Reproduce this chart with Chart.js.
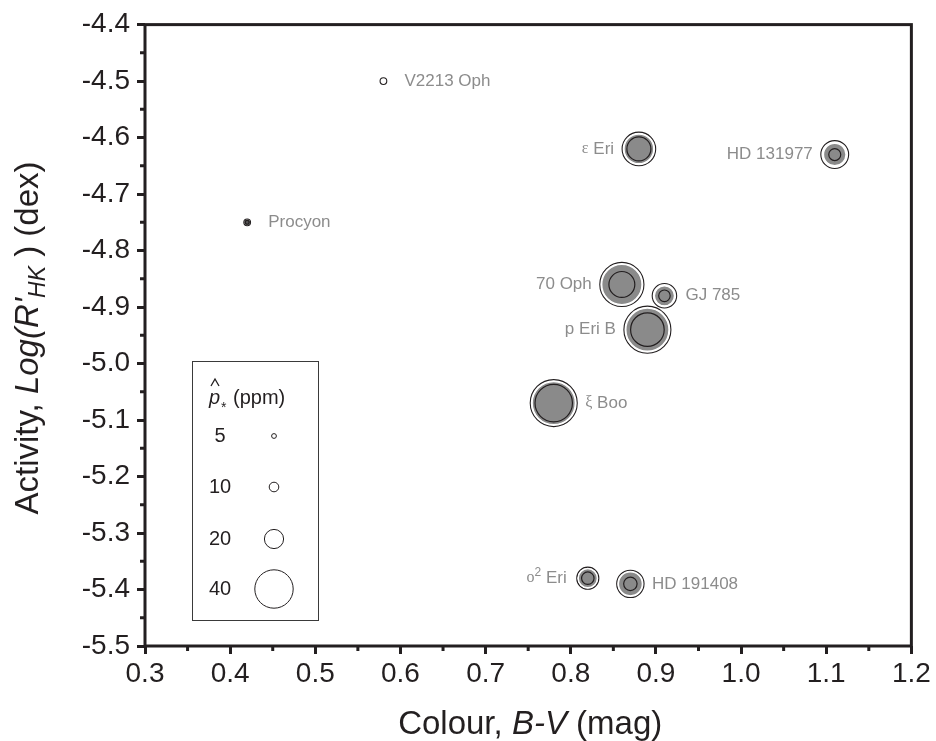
<!DOCTYPE html>
<html>
<head>
<meta charset="utf-8">
<script src="https://cdn.jsdelivr.net/npm/chart.js@4.4.1/dist/chart.umd.min.js"></script>
<style>
  html, body { margin: 0; padding: 0; background: #fff; }
  #wrap { width: 936px; height: 741px; }
</style>
</head>
<body>
<div id="wrap"><canvas id="chart" width="936" height="741"></canvas></div>
<script>
'use strict';

// star data
const stars = ['V2213 Oph', 'Procyon', 'ε Eri', 'HD 131977', '70 Oph', 'GJ 785', 'p Eri B', 'ξ Boo', 'ο² Eri', 'HD 191408'];
const colourBV = [0.58, 0.42, 0.88, 1.11, 0.86, 0.91, 0.89, 0.78, 0.82, 0.87];
const activity = [-4.50, -4.75, -4.62, -4.63, -4.86, -4.88, -4.94, -5.07, -5.38, -5.39];
// p* in ppm: upper bound (open circle), estimate (grey disc), lower bound (inner circle)
const pUpper = [7, 7, 35, 29, 46, 25.5, 49, 49, 23, 28.5];
const pMean = [null, 6, 31, 23.5, 42, 21, 45, 45, 20, 25];
const pLower = [null, 4, 25, 12.5, 27, 12, 35, 39, 13, 14];
const legendPpm = [5, 10, 20, 40];
const xTickLabels = ['0.3', '0.4', '0.5', '0.6', '0.7', '0.8', '0.9', '1.0', '1.1', '1.2'];
const yTickLabels = ['-4.4', '-4.5', '-4.6', '-4.7', '-4.8', '-4.9', '-5.0', '-5.1', '-5.2', '-5.3', '-5.4', '-5.5'];

const SANS = "'Liberation Sans', Arial, Helvetica, sans-serif";
const SERIF = "'Liberation Serif', 'Times New Roman', serif";
const INK = '#231f20';
const GREY = '#8a8a8a';
const LABEL = '#8c8c8c';

const ppmToPx = p => p * 0.48;

function bubbles(vals) {
  const out = [];
  for (let i = 0; i < stars.length; i++) {
    if (vals[i] == null) continue;
    out.push({ x: colourBV[i], y: activity[i], r: ppmToPx(vals[i]) });
  }
  return out;
}

// which side of the bubble the name goes
const labelSide = {
  'V2213 Oph': 'right', 'Procyon': 'right', 'ε Eri': 'left', 'HD 131977': 'left',
  '70 Oph': 'left', 'GJ 785': 'right', 'p Eri B': 'left', 'ξ Boo': 'right',
  'ο² Eri': 'left', 'HD 191408': 'right'
};

// draw a list of text pieces {t, font, dy}
function richWidth(ctx, segs) {
  let w = 0;
  segs.forEach(s => { ctx.font = s.font; w += ctx.measureText(s.t).width; });
  return w;
}
function drawRich(ctx, segs, x, y, align) {
  const w = richWidth(ctx, segs);
  let cx = align === 'center' ? x - w / 2 : align === 'right' ? x - w : x;
  ctx.textAlign = 'left';
  segs.forEach(s => {
    ctx.font = s.font;
    ctx.fillText(s.t, cx, y + (s.dy || 0));
    cx += ctx.measureText(s.t).width;
  });
}

function nameSegs(name) {
  const segs = [];
  let buf = '';
  const flush = () => { if (buf) { segs.push({ t: buf, font: '17px ' + SANS }); buf = ''; } };
  for (const ch of name) {
    if (/[\u0370-\u03FF]/.test(ch)) {
      flush();
      segs.push({ t: ch, font: '16px ' + SERIF });
    } else if (ch === '²') {
      flush();
      segs.push({ t: '2', font: '12px ' + SANS, dy: -6 });
    } else {
      buf += ch;
    }
  }
  flush();
  return segs;
}

const starLabels = {
  id: 'starLabels',
  afterDatasetsDraw(chart) {
    const ctx = chart.ctx;
    const xs = chart.scales.x, ys = chart.scales.y;
    ctx.save();
    ctx.fillStyle = LABEL;
    ctx.textBaseline = 'middle';
    stars.forEach((name, i) => {
      const px = xs.getPixelForValue(colourBV[i]);
      const py = ys.getPixelForValue(activity[i]);
      const off = Math.max(ppmToPx(pUpper[i]) + 8, 21);
      const side = labelSide[name];
      drawRich(ctx, nameSegs(name), side === 'left' ? px - off : px + off, py, side === 'left' ? 'right' : 'left');
    });
    ctx.restore();
  }
};

const frameAndTitles = {
  id: 'frameAndTitles',
  afterDraw(chart) {
    const ctx = chart.ctx;
    const a = chart.chartArea;
    const xs = chart.scales.x, ys = chart.scales.y;
    ctx.save();
    ctx.strokeStyle = INK;
    ctx.fillStyle = INK;

    // minor ticks
    ctx.lineWidth = 3;
    ctx.beginPath();
    for (let i = 0; i < xTickLabels.length - 1; i++) {
      const v = (parseFloat(xTickLabels[i]) + parseFloat(xTickLabels[i + 1])) / 2;
      const p = xs.getPixelForValue(v);
      ctx.moveTo(p, a.bottom); ctx.lineTo(p, a.bottom + 5);
    }
    for (let i = 0; i < yTickLabels.length - 1; i++) {
      const v = (parseFloat(yTickLabels[i]) + parseFloat(yTickLabels[i + 1])) / 2;
      const p = ys.getPixelForValue(v);
      ctx.moveTo(a.left, p); ctx.lineTo(a.left - 5, p);
    }
    ctx.stroke();

    // frame
    ctx.lineWidth = 3;
    ctx.strokeRect(a.left, a.top, a.right - a.left, a.bottom - a.top);

    // x title
    ctx.textBaseline = 'alphabetic';
    drawRich(ctx, [
      { t: 'Colour, ', font: '33px ' + SANS },
      { t: 'B-V', font: 'italic 33px ' + SANS },
      { t: ' (mag)', font: '33px ' + SANS }
    ], (a.left + a.right) / 2 + 2, 734, 'center');

    // y title
    ctx.save();
    ctx.translate(38, 338);
    ctx.rotate(-Math.PI / 2);
    drawRich(ctx, [
      { t: 'Activity, ', font: '33px ' + SANS },
      { t: "Log(R'", font: 'italic 33px ' + SANS },
      { t: 'HK', font: 'italic 23px ' + SANS, dy: 7 },
      { t: ' ) (dex)', font: '33px ' + SANS }
    ], 0, 0, 'center');
    ctx.restore();

    // size legend
    ctx.lineWidth = 1;
    ctx.strokeStyle = '#3a3a3a';
    ctx.strokeRect(192.5, 361.5, 126, 259);
    ctx.fillStyle = INK;
    ctx.strokeStyle = INK;
    drawRich(ctx, [{ t: 'p', font: 'italic 20px ' + SANS }], 209, 404, 'left');
    ctx.beginPath();
    ctx.moveTo(211, 386); ctx.lineTo(215, 379); ctx.lineTo(219, 386);
    ctx.lineWidth = 1.3;
    ctx.stroke();
    drawRich(ctx, [{ t: '*', font: '14px ' + SANS }], 221, 412, 'left');
    drawRich(ctx, [{ t: '(ppm)', font: '20px ' + SANS }], 233, 404, 'left');

    const rowY = [436, 487, 539, 589];
    ctx.textBaseline = 'middle';
    ctx.textAlign = 'center';
    ctx.font = '20px ' + SANS;
    ctx.lineWidth = 1;
    legendPpm.forEach((p, i) => {
      ctx.fillText(String(p), 220, rowY[i]);
      ctx.beginPath();
      ctx.arc(274, rowY[i], ppmToPx(p), 0, Math.PI * 2);
      ctx.stroke();
    });
    ctx.restore();
  }
};

const tickFont = { family: SANS, size: 28 };

new Chart(document.getElementById('chart'), {
  type: 'bubble',
  data: {
    datasets: [{
      label: 'upper',
      data: bubbles(pUpper),
      backgroundColor: '#ffffff',
      borderColor: INK,
      borderWidth: 1.1,
      order: 3
    }, {
      label: 'estimate',
      data: bubbles(pMean),
      backgroundColor: c => (c.raw && c.raw.r < 4 ? '#555' : GREY),
      borderColor: '#ffffff',
      borderWidth: c => (c.raw && c.raw.r < 4 ? 0 : 1.4),
      order: 2
    }, {
      label: 'lower',
      data: bubbles(pLower),
      backgroundColor: 'rgba(0,0,0,0)',
      borderColor: INK,
      borderWidth: 1.2,
      order: 1
    }]
  },
  options: {
    responsive: false,
    animation: false,
    events: [],
    layout: { padding: { top: 18, right: 21, left: 0, bottom: 0 } },
    plugins: { legend: { display: false }, tooltip: { enabled: false } },
    scales: {
      x: {
        type: 'linear',
        min: 0.3,
        max: 1.2,
        afterFit(scale) { scale.height = 95; },
        afterBuildTicks(scale) { scale.ticks = xTickLabels.map(t => ({ value: parseFloat(t) })); },
        ticks: {
          autoSkip: false,
          maxRotation: 0,
          padding: 3,
          color: INK,
          font: tickFont,
          callback: (v, i) => xTickLabels[i]
        },
        grid: { drawOnChartArea: false, drawTicks: true, tickLength: 8, tickWidth: 3, tickColor: INK },
        border: { display: false }
      },
      y: {
        type: 'linear',
        min: -5.5,
        max: -4.4,
        afterFit(scale) { scale.width = 145; },
        afterBuildTicks(scale) { scale.ticks = yTickLabels.slice().reverse().map(t => ({ value: parseFloat(t) })); },
        ticks: {
          autoSkip: false,
          padding: 7,
          color: INK,
          font: tickFont,
          callback: (v, i, ticks) => yTickLabels[ticks.length - 1 - i]
        },
        grid: { drawOnChartArea: false, drawTicks: true, tickLength: 8, tickWidth: 3, tickColor: INK },
        border: { display: false }
      }
    }
  },
  plugins: [starLabels, frameAndTitles]
});
</script>
</body>
</html>
